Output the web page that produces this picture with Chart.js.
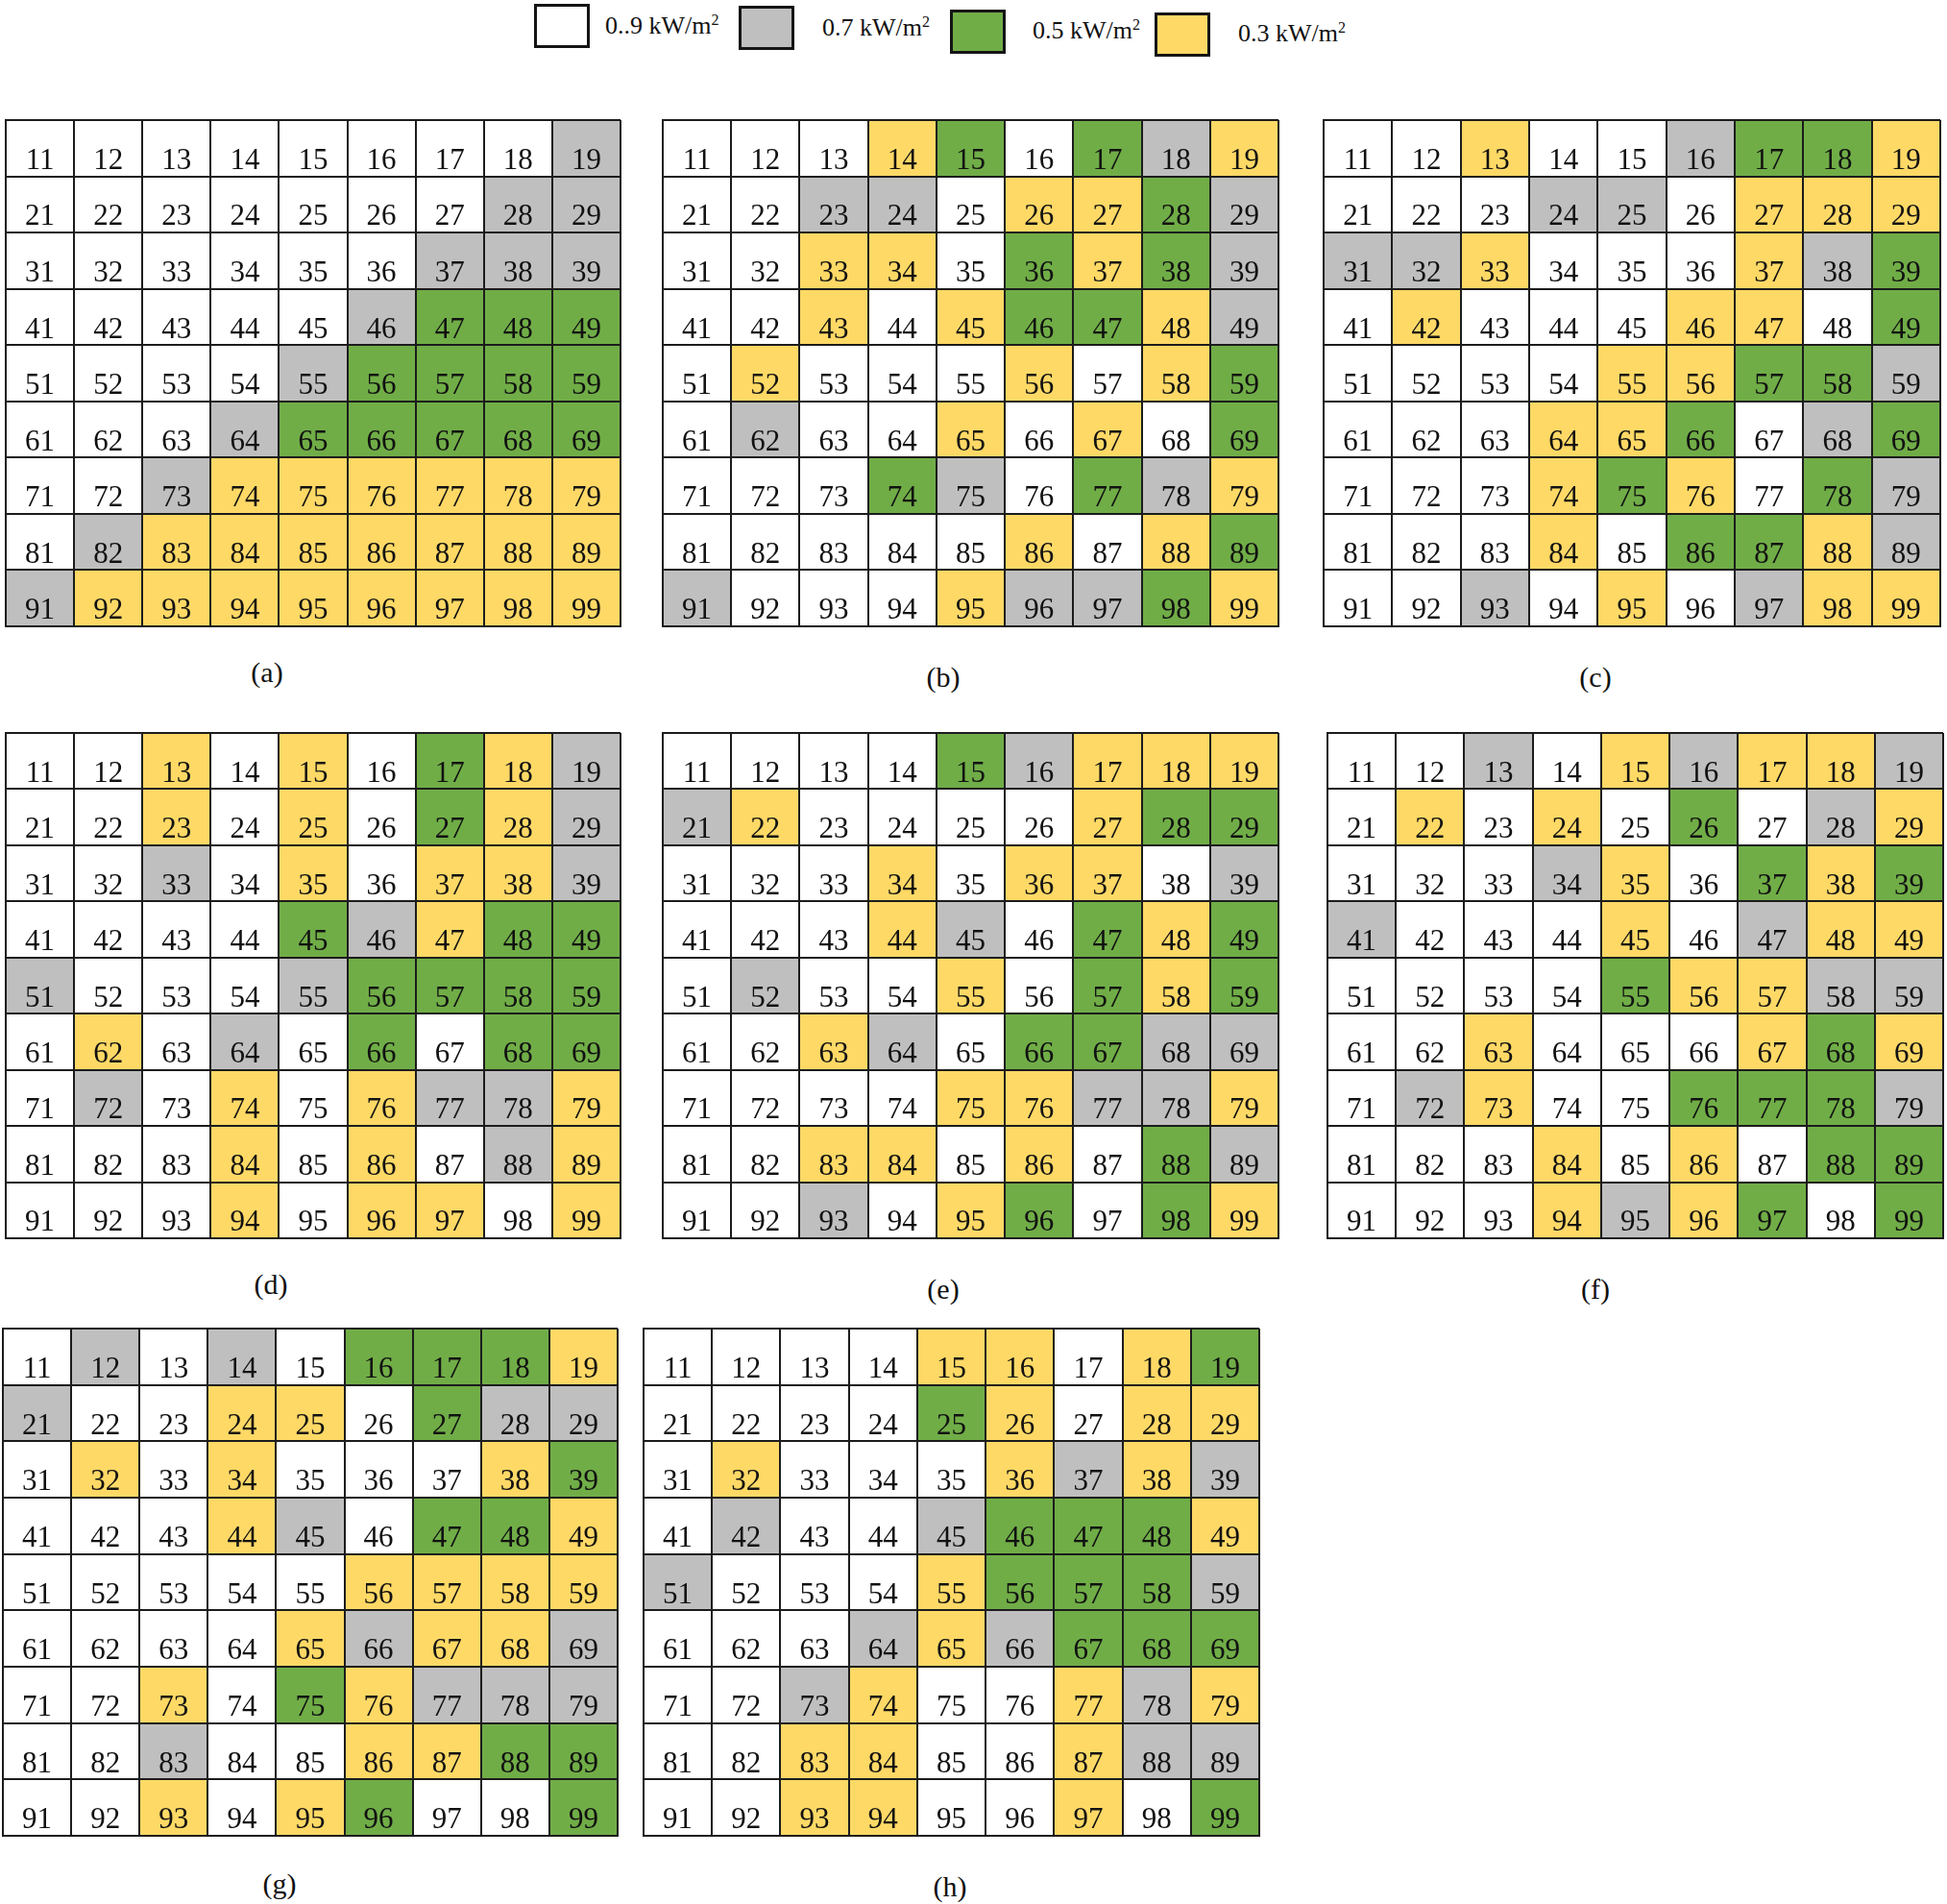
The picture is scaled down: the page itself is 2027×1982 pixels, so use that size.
<!DOCTYPE html>
<html>
<head>
<meta charset="utf-8">
<script src="https://cdn.jsdelivr.net/npm/chart.js@4.4.0/dist/chart.umd.min.js"></script>
<style>
  html, body { margin:0; padding:0; background:#fff; }
  body { width:2027px; height:1982px; position:relative; overflow:hidden;
         font-family:"Liberation Serif","DejaVu Serif",serif; color:#111; }
  canvas.cv { position:absolute; }
  .cap { position:absolute; font-size:30px; transform:translate(-50%,-50%); white-space:nowrap; }
  .lbox { position:absolute; border:3px solid #151515; box-sizing:border-box; }
  .ltxt { position:absolute; font-size:26px; transform:translateY(-50%); white-space:nowrap; }
  .ltxt sup { font-size:16px; vertical-align:9px; line-height:0; }
</style>
</head>
<body>
<script>
// ---------------- DATA ----------------
const rowIds = [1,2,3,4,5,6,7,8,9];
const colIds = [1,2,3,4,5,6,7,8,9];
// irradiance codes: 9 = 0.9 kW/m², 7 = 0.7, 5 = 0.5, 3 = 0.3
const levelCodes = ['9','7','5','3'];
const legendValues = ['0..9', '0.7', '0.5', '0.3'];
const legendUnit = 'kW/m';
const panelNames = ['(a)','(b)','(c)','(d)','(e)','(f)','(g)','(h)'];

const gridA = ["999999997","999999977","999999777","999997555","999975555","999755555","997333333","973333333","733333333"];
const gridB = ["999359573","997793357","993395357","993935537","939993935","979939395","999579573","999993935","799937753"];
const gridC = ["993997553","999779333","773999375","939993395","999933557","999335975","999353957","999395537","997939733"];
const gridD = ["993939537","993939537","997939337","999957355","799975555","939795955","979393773","999393973","999393393"];
const gridE = ["999957333","739999355","999393397","999379535","979939535","993795577","999933773","993393957","997935953"];
const gridF = ["997937337","939395973","999739535","799939733","999953377","993999353","973995557","999393955","999373595"];
const gridG = ["979795553","799339577","939399935","999379553","999993333","999937337","993953777","997993355","993935995"];
const gridH = ["999933935","999953933","939993737","979975553","799935557","999737555","997399373","993399377","993399395"];
const grids = [gridA, gridB, gridC, gridD, gridE, gridF, gridG, gridH];

// ---------------- STYLE / LAYOUT ----------------
const levelColor = { '9':'#ffffff', '7':'#bfbfbf', '5':'#70ad47', '3':'#ffd966' };
const lineColor = '#1c1c1c';
const panelRects = [
  {l:6,    t:125,  w:640, h:527},
  {l:690,  t:125,  w:641, h:527},
  {l:1378, t:125,  w:642, h:527},
  {l:6,    t:763,  w:640, h:526},
  {l:690,  t:763,  w:641, h:526},
  {l:1382, t:763,  w:641, h:526},
  {l:3,    t:1383, w:640, h:528},
  {l:670,  t:1383, w:641, h:528}
];
const captionPos = [
  {x:278, y:700}, {x:982, y:705}, {x:1661, y:705},
  {x:282, y:1337}, {x:982, y:1342}, {x:1661, y:1342},
  {x:291, y:1961}, {x:989, y:1964}
];
const legendBoxes = [
  {l:556, t:4,  tx:630,  ty:27},
  {l:769, t:6,  tx:856,  ty:29},
  {l:989, t:10, tx:1075, ty:32},
  {l:1202,t:13, tx:1289, ty:35}
];
const PAD = 3;

// ---------------- LEGEND ----------------
levelCodes.forEach((code, k) => {
  const b = legendBoxes[k];
  const box = document.createElement('div');
  box.className = 'lbox';
  box.style.left = b.l + 'px'; box.style.top = b.t + 'px';
  box.style.width = '58px'; box.style.height = '46px';
  box.style.background = levelColor[code];
  document.body.appendChild(box);
  const t = document.createElement('div');
  t.className = 'ltxt';
  t.style.left = b.tx + 'px'; t.style.top = b.ty + 'px';
  t.innerHTML = legendValues[k] + ' ' + legendUnit + '<sup>2</sup>';
  document.body.appendChild(t);
});

// ---------------- CAPTIONS ----------------
panelNames.forEach((name, k) => {
  const c = document.createElement('div');
  c.className = 'cap';
  c.style.left = captionPos[k].x + 'px';
  c.style.top = captionPos[k].y + 'px';
  c.textContent = name;
  document.body.appendChild(c);
});

// ---------------- GRIDS ----------------
function cellLabelPlugin(rows) {
  return {
    id: 'cellLabels',
    afterDraw(chart) {
      const ctx = chart.ctx;
      const xs = chart.scales.x, ys = chart.scales.y;
      ctx.save();
      ctx.fillStyle = '#111';
      ctx.font = '31px "Liberation Serif", "DejaVu Serif", serif';
      ctx.textAlign = 'center';
      ctx.textBaseline = 'middle';
      rowIds.forEach((r, i) => {
        colIds.forEach((c, j) => {
          const x = xs.getPixelForValue(j);
          const y = ys.getPixelForValue(i + 0.73);
          ctx.fillText(String(r) + String(c), x, y);
        });
      });
      ctx.restore();
    }
  };
}

grids.forEach((rows, k) => {
  const R = panelRects[k];
  const cv = document.createElement('canvas');
  cv.className = 'cv';
  cv.width = R.w + 2*PAD; cv.height = R.h + 2*PAD;
  cv.style.width = cv.width + 'px'; cv.style.height = cv.height + 'px';
  cv.style.left = (R.l - PAD) + 'px'; cv.style.top = (R.t - PAD) + 'px';
  document.body.appendChild(cv);

  const datasets = rowIds.map((r, i) => ({
    label: 'row ' + r,
    data: colIds.map(() => [i, i + 1]),
    backgroundColor: colIds.map((c, j) => levelColor[rows[i][j]]),
    borderWidth: 0,
    categoryPercentage: 1.0,
    barPercentage: 1.0,
    grouped: false
  }));

  new Chart(cv.getContext('2d'), {
    type: 'bar',
    data: { labels: colIds.map(String), datasets },
    options: {
      responsive: false,
      animation: false,
      events: [],
      layout: { padding: PAD },
      plugins: { legend: { display: false }, tooltip: { enabled: false } },
      scales: {
        x: {
          type: 'category', offset: true,
          grid: { offset: true, color: lineColor, lineWidth: 2, drawTicks: false, z: 1 },
          border: { display: true, color: lineColor, width: 2, z: 1 },
          ticks: { display: false },
          afterFit: (s) => { s.height = 0; }
        },
        y: {
          type: 'linear', min: 0, max: 9, reverse: true,
          ticks: { display: false, stepSize: 1 },
          grid: { color: lineColor, lineWidth: 2, drawTicks: false, z: 1 },
          border: { display: true, color: lineColor, width: 2, z: 1 },
          afterFit: (s) => { s.width = 0; }
        }
      }
    },
    plugins: [cellLabelPlugin(rows)]
  });
});
</script>
</body>
</html>
